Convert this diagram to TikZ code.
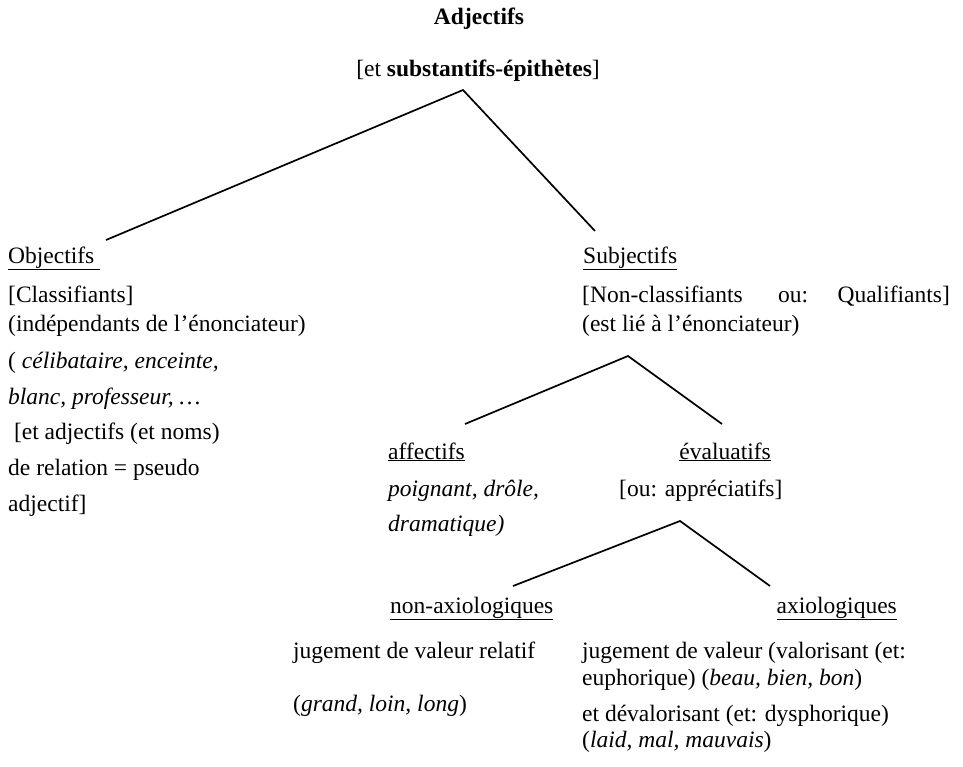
\documentclass[tikz,border=0pt]{standalone}
\usepackage{fontspec}
\setmainfont{Liberation Serif}
\begin{document}
\begin{tikzpicture}[x=1pt,y=-1pt,
  txt/.style={anchor=base west, inner sep=0pt, font=\fontsize{23.5}{28}\selectfont},
  ctxt/.style={anchor=base, inner sep=0pt, font=\fontsize{23.5}{28}\selectfont},
  rtxt/.style={anchor=base east, inner sep=0pt, font=\fontsize{23.5}{28}\selectfont},
  branch/.style={line width=1.7pt, line join=miter}]
\useasboundingbox (0,0) rectangle (963,766);
% title
\node[ctxt] (title) at (479,24) {\textbf{Adjectifs}};
\node[ctxt] (subtitle) at (478,76) {[et \textbf{substantifs-épithètes}]};
% left column
\node[txt] (obj) at (8,263) {\underline{Objectifs\ }};
\node[txt] (obj1) at (8,302) {[Classifiants]};
\node[txt] (obj2) at (8,331) {(indépendants de l’énonciateur)};
\node[txt] (obj3) at (8,368) {( \textit{célibataire, enceinte,}};
\node[txt] (obj4) at (8,404) {\textit{blanc, professeur, …}};
\node[txt] (obj5) at (8,439) {\ [et adjectifs (et noms)};
\node[txt] (obj6) at (8,475) {de relation = pseudo};
\node[txt] (obj7) at (8,511) {adjectif]};
% right column
\node[txt] (subj) at (583,263) {\underline{Subjectifs}};
\node[txt] (subj1a) at (582,302) {[Non-classifiants};
\node[txt] (subj1b) at (778,302) {ou:};
\node[rtxt] (subj1c) at (950,302) {Qualifiants]};
\node[txt] (subj2) at (582,331) {(est lié à l’énonciateur)};
% second level
\node[txt] (aff) at (388,459) {\underline{affectifs}};
\node[txt] (aff1) at (388,496) {\textit{poignant, drôle,}};
\node[txt] (aff2) at (388,531) {\textit{dramatique)}};
\node[rtxt] (eval) at (771,459) {\underline{évaluatifs}};
\node[txt] (eval1) at (619,496) {[ou: appréciatifs]};
% third level
\node[txt] (nonax) at (390,613) {\underline{non-axiologiques}};
\node[txt] (nonax1) at (293,658) {jugement de valeur relatif};
\node[txt] (nonax2) at (293,711) {(\textit{grand, loin, long})};
\node[rtxt] (ax) at (897,613) {\underline{axiologiques}};
\node[txt] (ax1) at (582,658) {jugement de valeur (valorisant (et:};
\node[txt] (ax2) at (582,685) {euphorique) (\textit{beau, bien, bon})};
\node[txt] (ax3) at (582,721) {et dévalorisant (et: dysphorique)};
\node[txt] (ax4) at (582,747) {(\textit{laid, mal, mauvais})};
% branches
\coordinate (t0) at (463,90);
\coordinate (tl) at (106,240);
\coordinate (tr) at (595,231);
\draw[branch] (tl) -- (t0) -- (tr);
\coordinate (m0) at (628,356);
\coordinate (ml) at (465,424);
\coordinate (mr) at (722,424);
\draw[branch] (ml) -- (m0) -- (mr);
\coordinate (b0) at (680,521);
\coordinate (bl) at (513,586);
\coordinate (br) at (770,586);
\draw[branch] (bl) -- (b0) -- (br);
\end{tikzpicture}
\end{document}
